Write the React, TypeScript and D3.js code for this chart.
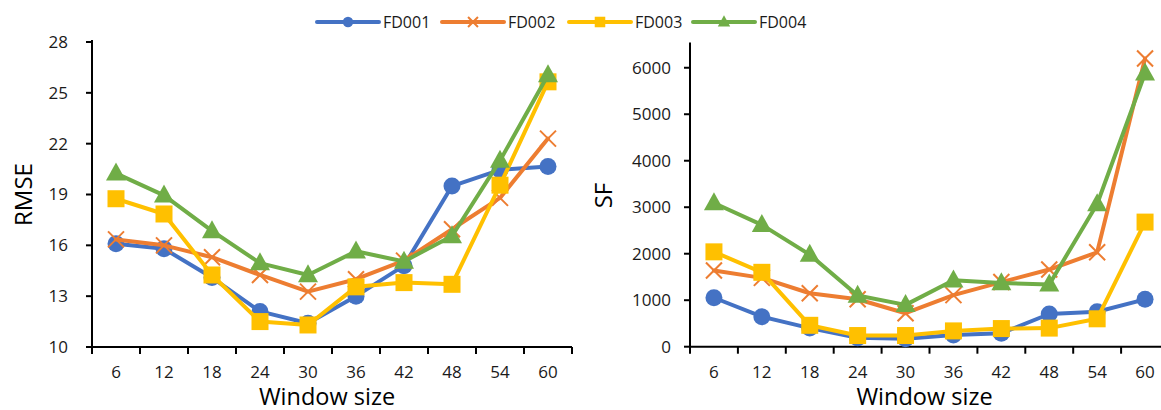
import React, { useEffect, useRef } from "react";
import * as d3 from "d3";

// Window sizes on the x axis
const windowSizes = ["6", "12", "18", "24", "30", "36", "42", "48", "54", "60"];

// RMSE per dataset
const rmseFD001 = [16.1, 15.8, 14.1, 12.1, 11.4, 13.0, 14.8, 19.5, 20.45, 20.65];
const rmseFD002 = [16.35, 16.0, 15.3, 14.25, 13.27, 14.0, 15.1, 16.95, 18.8, 22.3];
const rmseFD003 = [18.75, 17.85, 14.25, 11.5, 11.3, 13.55, 13.8, 13.7, 19.55, 25.65];
const rmseFD004 = [20.25, 18.95, 16.85, 14.95, 14.25, 15.65, 15.05, 16.55, 21.0, 26.05];

// Score function per dataset
const sfFD001 = [1053, 645, 400, 190, 170, 250, 290, 703, 752, 1019];
const sfFD002 = [1640, 1480, 1150, 1020, 720, 1110, 1390, 1660, 2030, 6200];
const sfFD003 = [2040, 1600, 460, 240, 240, 340, 390, 400, 600, 2680];
const sfFD004 = [3090, 2620, 1980, 1100, 900, 1430, 1370, 1340, 3070, 5880];

const rmseTicks = [10, 13, 16, 19, 22, 25, 28];
const sfTicks = [0, 1000, 2000, 3000, 4000, 5000, 6000];

const seriesNames = ["FD001", "FD002", "FD003", "FD004"];
const seriesColors = ["#4472C4", "#ED7D31", "#FFC000", "#70AD47"];
const seriesMarkers = ["circle", "cross", "square", "triangle"];

const FONT = "'Open Sans', 'Liberation Sans', sans-serif";

function drawMarker(
  g: d3.Selection<SVGGElement, unknown, null, undefined>,
  kind: string,
  x: number,
  y: number,
  color: string,
  scale = 1
) {
  if (kind === "circle") {
    g.append("circle").attr("cx", x).attr("cy", y).attr("r", 8.5 * scale).attr("fill", color);
  } else if (kind === "square") {
    const s = 17 * scale;
    g.append("rect").attr("x", x - s / 2).attr("y", y - s / 2).attr("width", s).attr("height", s).attr("fill", color);
  } else if (kind === "triangle") {
    const w = 20 * scale;
    const h = 18 * scale;
    g.append("path")
      .attr("d", `M${x},${y - h * 0.6}L${x + w / 2},${y + h * 0.4}L${x - w / 2},${y + h * 0.4}Z`)
      .attr("fill", color);
  } else if (kind === "cross") {
    const s = 8 * scale;
    g.append("path")
      .attr("d", `M${x - s},${y - s}L${x + s},${y + s}M${x - s},${y + s}L${x + s},${y - s}`)
      .attr("stroke", color)
      .attr("stroke-width", 2)
      .attr("fill", "none");
  }
}

interface PanelSpec {
  x0: number;
  x1: number;
  yTop: number;
  yBottom: number;
  domain: [number, number];
  ticks: number[];
  series: number[][];
  yLabel: string;
  yLabelX: number;
  tickLabelGap: number;
}

function drawPanel(svg: d3.Selection<SVGSVGElement, unknown, null, undefined>, p: PanelSpec) {
  const x = d3.scaleBand<string>().domain(windowSizes).range([p.x0, p.x1]).padding(0);
  const y = d3.scaleLinear().domain(p.domain).range([p.yBottom, p.yTop]);
  const g = svg.append("g");

  // y axis
  g.append("line")
    .attr("x1", p.x0).attr("x2", p.x0)
    .attr("y1", y(p.domain[0])).attr("y2", p.yTop - 2)
    .attr("stroke", "#000").attr("stroke-width", 2);
  p.ticks.forEach((t) => {
    g.append("line")
      .attr("x1", p.x0 - 6).attr("x2", p.x0)
      .attr("y1", y(t)).attr("y2", y(t))
      .attr("stroke", "#000").attr("stroke-width", 2);
    g.append("text")
      .attr("x", p.x0 - p.tickLabelGap)
      .attr("y", y(t))
      .attr("dy", "0.35em")
      .attr("text-anchor", "end")
      .attr("font-family", FONT)
      .attr("font-size", 17)
      .attr("fill", "#1a1a1a")
      .text(String(t));
  });

  // x axis with ticks at category boundaries
  const base = y(p.domain[0]);
  g.append("line")
    .attr("x1", p.x0).attr("x2", p.x1)
    .attr("y1", base).attr("y2", base)
    .attr("stroke", "#000").attr("stroke-width", 2);
  d3.range(windowSizes.length + 1).forEach((i) => {
    const tx = p.x0 + i * x.step();
    g.append("line")
      .attr("x1", tx).attr("x2", tx)
      .attr("y1", base).attr("y2", base + 7)
      .attr("stroke", "#000").attr("stroke-width", 2);
  });
  windowSizes.forEach((w) => {
    g.append("text")
      .attr("x", (x(w) as number) + x.bandwidth() / 2)
      .attr("y", base + 25)
      .attr("dy", "0.35em")
      .attr("text-anchor", "middle")
      .attr("font-family", FONT)
      .attr("font-size", 17)
      .attr("fill", "#1a1a1a")
      .text(w);
  });

  // axis titles
  g.append("text")
    .attr("x", (p.x0 + p.x1) / 2 - 5)
    .attr("y", 397)
    .attr("dy", "0.35em")
    .attr("text-anchor", "middle")
    .attr("font-family", FONT)
    .attr("font-size", 23.5)
    .attr("fill", "#000")
    .text("Window size");
  g.append("text")
    .attr("transform", `translate(${p.yLabelX},${(p.yTop + p.yBottom) / 2}) rotate(-90)`)
    .attr("dy", "0.35em")
    .attr("text-anchor", "middle")
    .attr("font-family", FONT)
    .attr("font-size", 24)
    .attr("fill", "#000")
    .text(p.yLabel);

  // series: line then markers, in series order
  const line = d3
    .line<number>()
    .x((_, i) => (x(windowSizes[i]) as number) + x.bandwidth() / 2)
    .y((v) => y(v));
  p.series.forEach((vals, si) => {
    const sg = g.append("g");
    sg.append("path")
      .attr("d", line(vals) as string)
      .attr("fill", "none")
      .attr("stroke", seriesColors[si])
      .attr("stroke-width", 4)
      .attr("stroke-linejoin", "round")
      .attr("stroke-linecap", "round");
    vals.forEach((v, i) => {
      drawMarker(sg, seriesMarkers[si], (x(windowSizes[i]) as number) + x.bandwidth() / 2, y(v), seriesColors[si]);
    });
  });
}

export default function App() {
  const ref = useRef<SVGSVGElement | null>(null);

  useEffect(() => {
    const svg = d3.select(ref.current as SVGSVGElement);
    svg.selectAll("*").remove();

    drawPanel(svg, {
      x0: 92,
      x1: 572,
      yTop: 42,
      yBottom: 347,
      domain: [10, 28],
      ticks: rmseTicks,
      series: [rmseFD001, rmseFD002, rmseFD003, rmseFD004],
      yLabel: "RMSE",
      yLabelX: 24,
      tickLabelGap: 24,
    });

    drawPanel(svg, {
      x0: 690,
      x1: 1169,
      yTop: 44.5,
      yBottom: 346.7,
      domain: [0, 6500],
      ticks: sfTicks,
      series: [sfFD001, sfFD002, sfFD003, sfFD004],
      yLabel: "SF",
      yLabelX: 604,
      tickLabelGap: 19,
    });

    // legend
    const legendLineX = [317, 442, 569, 693];
    const lg = svg.append("g");
    seriesNames.forEach((name, i) => {
      const lx = legendLineX[i];
      const ly = 22;
      lg.append("line")
        .attr("x1", lx).attr("x2", lx + 62)
        .attr("y1", ly).attr("y2", ly)
        .attr("stroke", seriesColors[i])
        .attr("stroke-width", 4)
        .attr("stroke-linecap", "round");
      drawMarker(lg, seriesMarkers[i], lx + 31, ly, seriesColors[i], 0.62);
      lg.append("text")
        .attr("x", lx + 66)
        .attr("y", ly)
        .attr("dy", "0.35em")
        .attr("font-family", FONT)
        .attr("font-size", 16)
        .attr("fill", "#1a1a1a")
        .text(name);
    });
  }, []);

  return (
    <svg
      ref={ref}
      width={1161}
      height={410}
      style={{ position: "absolute", left: 0, top: 0, background: "#fff" }}
    />
  );
}
